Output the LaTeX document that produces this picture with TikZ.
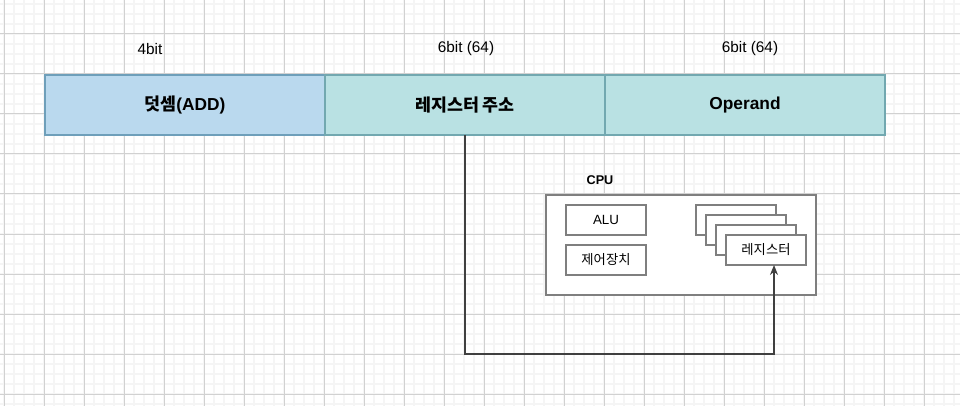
\documentclass[tikz,border=0pt]{standalone}
\usepackage{fontspec}
\setmainfont{Liberation Sans}
\newfontfamily\kr{Noto Sans CJK KR}
\usetikzlibrary{positioning,arrows.meta}

\definecolor{addfill}{HTML}{BAD9EE}
\definecolor{addline}{HTML}{6E9FBA}
\definecolor{fieldfill}{HTML}{B9E1E3}
\definecolor{fieldline}{HTML}{72A8B0}
\definecolor{partline}{HTML}{7F7F7F}

\tikzset{
  minorgrid/.style={draw=black!4, line width=1.1pt},
  majorgrid/.style={draw=black!18, line width=0.75pt},
  field/.style={draw=fieldline, fill=fieldfill, line width=1.1pt, inner sep=0pt, outer sep=0pt,
    minimum width=210pt, minimum height=45pt, font=\fontsize{13}{15}\selectfont\bfseries},
  bitlabel/.style={font=\fontsize{11.5}{13}\selectfont},
  part/.style={draw=partline, fill=white, line width=1.5pt, inner sep=0pt, outer sep=0pt,
    minimum width=60pt, minimum height=22.5pt, font=\fontsize{10}{12}\selectfont},
  link/.style={draw=black!75, line width=1.1pt, -{Stealth[length=7.5pt,width=6pt]}}
}

\begin{document}
\begin{tikzpicture}[x=0.75pt,y=-0.75pt]
        \useasboundingbox (0,0) rectangle (960,406);
        % grid
        \foreach \gx in {4,14,...,954} \draw[minorgrid] (\gx,0) -- (\gx,406);
        \foreach \gy in {4,14,...,404} \draw[minorgrid] (0,\gy) -- (960,\gy);
        \foreach \gx in {4,44,...,924} \draw[majorgrid] (\gx,0) -- (\gx,406);
        \foreach \gy in {34,74,...,394} \draw[majorgrid] (0,\gy) -- (960,\gy);

        % instruction fields
        \node [field, draw=addline, fill=addfill] (add) at (185,105) {{\kr 덧셈}(ADD)};
        \node [field, right=0pt of add] (addr) {\kr 레지스터 주소};
        \node [field, right=0pt of addr] (oper) {Operand};
        \node [bitlabel] (bitadd) at (150,49) {4bit};
        \node [bitlabel] (bitaddr) at (466,49) {6bit (64)};
        \node [bitlabel] (bitoper) at (750,49) {6bit (64)};

        % cpu
        \node [part, minimum width=202.5pt, minimum height=75pt] (cpu) at (681,245) {};
        \node [font=\fontsize{9.5}{11}\selectfont\bfseries] (cpulabel) at (600,180) {CPU};
        \node [part] (alu) at (606,220) {ALU};
        \node [part] (ctrl) at (606,260) {\kr 제어장치};
        \node [part] (reg1) at (736,220) {};
        \node [part] (reg2) at (746,230) {};
        \node [part] (reg3) at (756,240) {};
        \node [part] (reg4) at (766,250) {\kr 레지스터};

        % register address -> register
        \coordinate (bend) at (774,354);
        \draw [link] (addr.south) |- (bend) -- (bend |- reg4.south);
      \end{tikzpicture}
\end{document}
